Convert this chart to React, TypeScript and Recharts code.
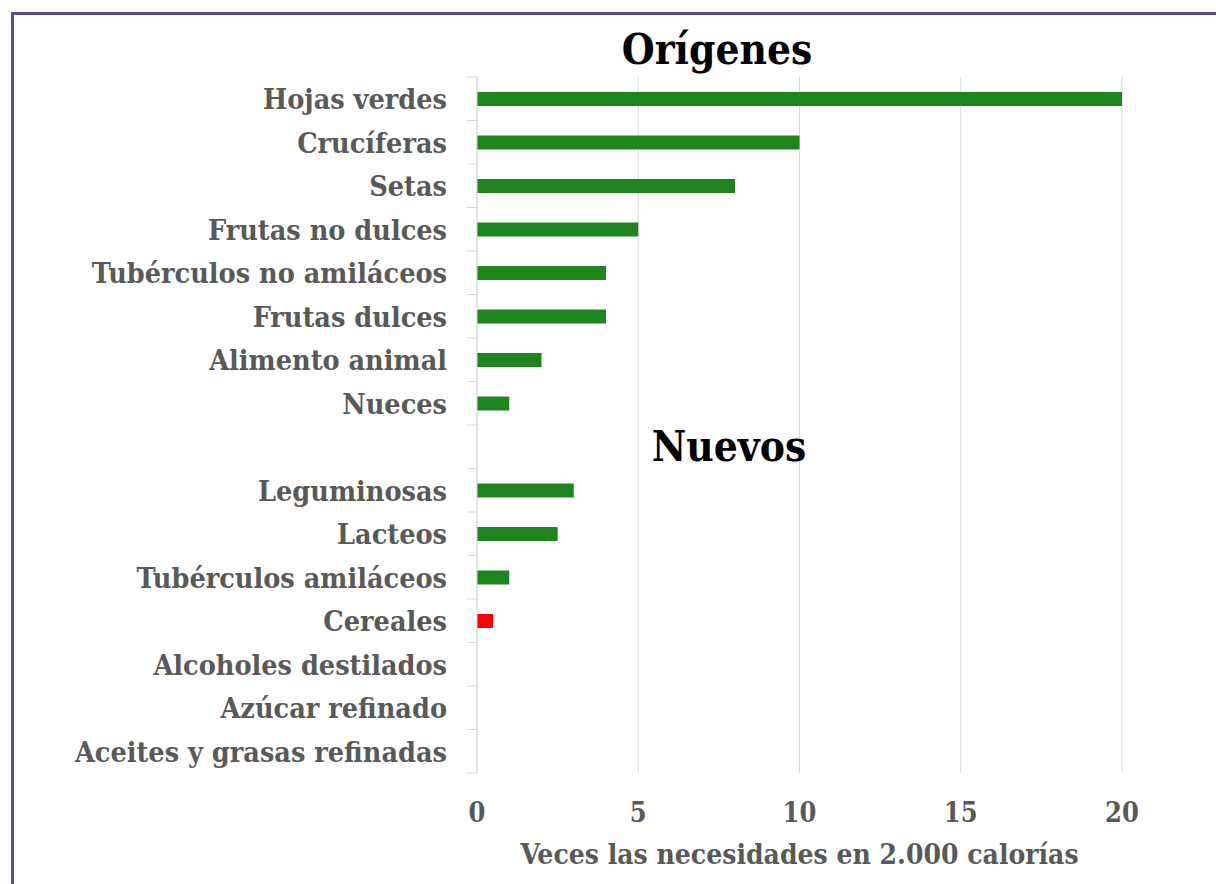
import { Bar, BarChart, CartesianGrid, Cell, XAxis, YAxis } from "recharts";

const categories = [
  "Hojas verdes",
  "Crucíferas",
  "Setas",
  "Frutas no dulces",
  "Tubérculos no amiláceos",
  "Frutas dulces",
  "Alimento animal",
  "Nueces",
  " ",
  "Leguminosas",
  "Lacteos",
  "Tubérculos amiláceos",
  "Cereales",
  "Alcoholes destilados",
  "Azúcar refinado",
  "Aceites y grasas refinadas",
];
const values = [20, 10, 8, 5, 4, 4, 2, 1, null, 3, 2.5, 1, 0.5, 0, 0, 0];
const redCategories = ["Cereales"];
const xTicks = [0, 5, 10, 15, 20];

const data = categories.map((name, i) => ({ name, value: values[i] }));

const FONT = "'DejaVu Serif', serif";
const GREY = "#595959";
const BAND = 43.5;

function CategoryTick({ x, y, payload, index }: any) {
  return (
    <g>
      <text
        x={x}
        y={y}
        dy="0.36em"
        textAnchor="end"
        fill={GREY}
        fontFamily={FONT}
        fontWeight="bold"
        fontSize={28.5}
        style={{ fontStretch: "condensed" }}
      >
        {payload.value}
      </text>
      {index === 0 && (
        <line x1={x + 20} x2={x + 30} y1={y - BAND / 2} y2={y - BAND / 2} stroke="#d9d9d9" />
      )}
      <line x1={x + 20} x2={x + 30} y1={y + BAND / 2} y2={y + BAND / 2} stroke="#d9d9d9" />
    </g>
  );
}

const titleStyle: React.CSSProperties = {
  position: "absolute",
  fontFamily: FONT,
  fontWeight: "bold",
  fontSize: 42,
  color: "#000",
  transform: "translate(-50%, -50%)",
  whiteSpace: "nowrap",
  fontStretch: "condensed",
  lineHeight: 1,
};

export default function App() {
  return (
    <div
      style={{
        position: "absolute",
        left: 0,
        top: 0,
        width: 1216,
        height: 884,
        overflow: "hidden",
        background: "#fff",
      }}
    >
      <div
        style={{
          position: "absolute",
          left: 11,
          top: 12,
          width: 1400,
          height: 1000,
          border: "3px solid #5e4a87",
        }}
      />
      <BarChart
        width={1216}
        height={884}
        data={data}
        layout="vertical"
        margin={{ top: 77, right: 94, bottom: 11, left: 0 }}
        barSize={14}
        style={{ position: "absolute", left: 0, top: 0 }}
      >
        <CartesianGrid horizontal={false} stroke="#d9d9d9" />
        <XAxis
          type="number"
          domain={[0, 20]}
          ticks={xTicks}
          axisLine={false}
          tickLine={false}
          tickSize={0}
          tickMargin={30}
          height={100}
          tick={{ fill: GREY, fontFamily: FONT, fontWeight: "bold", fontSize: 27, style: { fontStretch: "condensed" } }}
          label={{
            value: "Veces las necesidades en 2.000 calorías",
            position: "insideBottom",
            offset: 9,
            fill: GREY,
            fontFamily: FONT,
            fontWeight: "bold",
            fontSize: 28,
            style: { fontStretch: "condensed" },
          }}
        />
        <YAxis
          type="category"
          dataKey="name"
          width={477}
          axisLine={{ stroke: "#d9d9d9" }}
          tickLine={false}
          tickSize={0}
          tickMargin={30}
          interval={0}
          tick={<CategoryTick />}
        />
        <Bar dataKey="value" isAnimationActive={false}>
          {data.map((d) => (
            <Cell key={d.name} fill={redCategories.includes(d.name) ? "#ff0000" : "#1e841e"} />
          ))}
        </Bar>
      </BarChart>
      <div style={{ ...titleStyle, left: 717, top: 50 }}>Orígenes</div>
      <div style={{ ...titleStyle, left: 729, top: 447 }}>Nuevos</div>
    </div>
  );
}
